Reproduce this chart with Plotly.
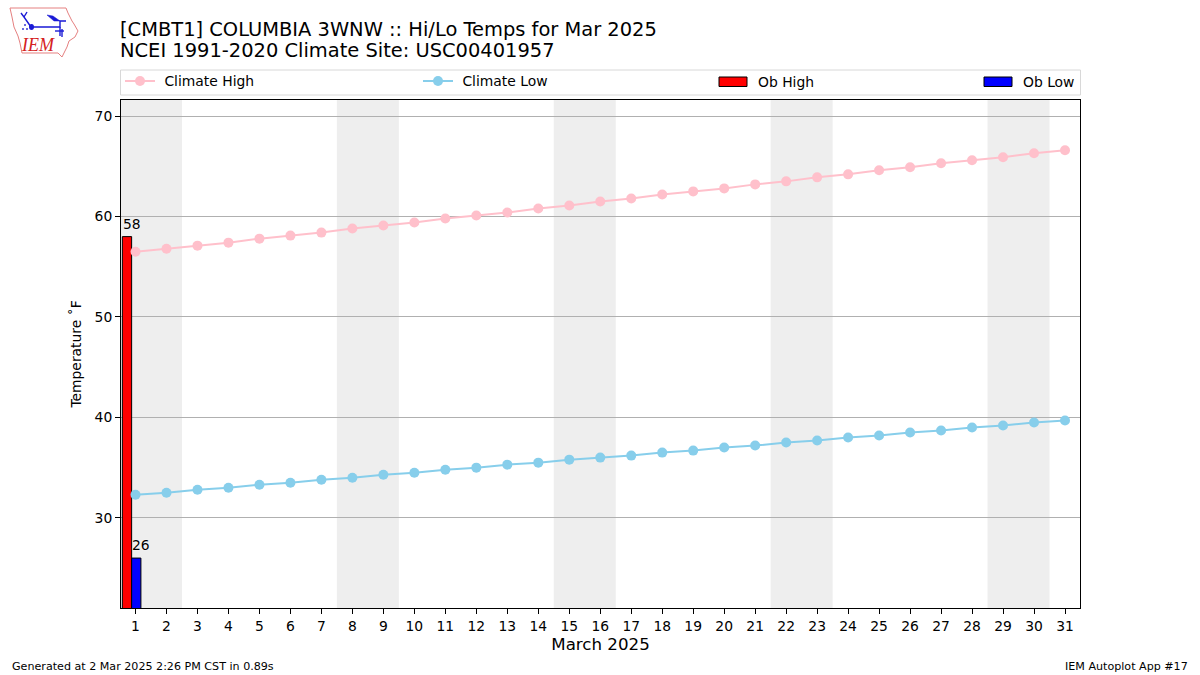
import plotly.graph_objects as go

days = list(range(1, 32))
climate_high = [56.5, 56.8, 57.1, 57.4, 57.8, 58.1, 58.4, 58.8, 59.1, 59.4, 59.8, 60.1, 60.4, 60.8, 61.1, 61.5,
                61.8, 62.2, 62.5, 62.8, 63.2, 63.5, 63.9, 64.2, 64.6, 64.9, 65.3, 65.6, 65.9, 66.3, 66.6]
climate_low = [32.3, 32.5, 32.8, 33.0, 33.3, 33.5, 33.8, 34.0, 34.3, 34.5, 34.8, 35.0, 35.3, 35.5, 35.8, 36.0,
               36.2, 36.5, 36.7, 37.0, 37.2, 37.5, 37.7, 38.0, 38.2, 38.5, 38.7, 39.0, 39.2, 39.5, 39.7]
ob_days = [1]
ob_high = [58]
ob_low = [26]
weekend_starts = [1, 8, 15, 22, 29]
y_ticks = [30, 40, 50, 60, 70]

FONT = "DejaVu Sans"
L, R, T, B = 121, 1080, 100, 608
W, H = 1200, 675
TXT = 13.89


def px(x):
    return (x - L) / (R - L)


def py(y):
    return (B - y) / (B - T)


def path(points, close=False):
    s = "M " + " L ".join(f"{px(x):.5f},{py(y):.5f}" for x, y in points)
    return s + (" Z" if close else "")


fig = go.Figure()
fig.add_trace(go.Scatter(x=days, y=climate_high, mode="lines+markers", name="\u00a0Climate High", showlegend=True,
                         line=dict(color="pink", width=2), marker=dict(color="pink", size=10), legend="legend"))
fig.add_trace(go.Scatter(x=days, y=climate_low, mode="lines+markers", name="\u00a0Climate Low", showlegend=True,
                         line=dict(color="skyblue", width=2), marker=dict(color="skyblue", size=10), legend="legend2"))
fig.add_trace(go.Bar(x=ob_days, y=ob_high, name="Ob High", width=0.3, offset=-0.425, showlegend=False,
                     marker=dict(color="red", line=dict(color="black", width=1))))
fig.add_trace(go.Bar(x=ob_days, y=ob_low, name="Ob Low", width=0.3, offset=-0.125, showlegend=False,
                     marker=dict(color="blue", line=dict(color="black", width=1))))

shapes = [dict(type="rect", xref="x", yref="paper", x0=d - 0.5, x1=d + 1.5, y0=0, y1=1,
               fillcolor="#eeeeee", line_width=0, layer="below") for d in weekend_starts]

# legend frame and bar swatches
shapes.append(dict(type="rect", xref="paper", yref="paper", x0=px(120.5), x1=px(1080.5), y0=py(95), y1=py(70),
                   line=dict(color="#d8d8d8", width=1), fillcolor="white", layer="below"))
shapes.append(dict(type="rect", xref="paper", yref="paper", x0=px(719), x1=px(747), y0=py(86.5), y1=py(77),
                   line=dict(color="black", width=1), fillcolor="red"))
shapes.append(dict(type="rect", xref="paper", yref="paper", x0=px(984), x1=px(1012), y0=py(86.5), y1=py(77),
                   line=dict(color="black", width=1), fillcolor="blue"))

# logo: outline of Iowa with station-model glyph
iowa = [(10, 8), (66, 8), (68, 13), (72, 21), (74, 24), (78, 31), (75, 37), (69, 41), (67, 47), (64, 53),
        (62, 57), (58, 53), (22, 53), (20, 43), (18, 36), (14, 27), (12, 17)]
shapes.append(dict(type="path", xref="paper", yref="paper", path=path(iowa, True),
                   line=dict(color="#e58080", width=1), fillcolor="rgba(0,0,0,0)"))
for seg in ([(31, 27), (60, 27), (60, 21), (66, 21)], [(60, 27), (60, 36)], [(31, 27), (24, 17), (21, 13)],
            [(24, 17), (27, 12)], [(55, 31), (64, 31)], [(62, 29), (62, 37)]):
    shapes.append(dict(type="path", xref="paper", yref="paper", path=path(seg),
                       line=dict(color="#1a1ad6", width=1.4)))
shapes.append(dict(type="path", xref="paper", yref="paper", path=path([(47, 15), (53, 16), (60, 21), (54, 21)], True),
                   line=dict(color="#1a1ad6", width=0.5), fillcolor="#1a1ad6"))
shapes.append(dict(type="circle", xref="paper", yref="paper", x0=px(29), x1=px(34), y0=py(30), y1=py(24),
                   line_width=0, fillcolor="#1a1ad6"))
for cx, cy in ((23, 29), (27, 29), (25, 25)):
    shapes.append(dict(type="circle", xref="paper", yref="paper", x0=px(cx - 1), x1=px(cx + 1), y0=py(cy + 1),
                       y1=py(cy - 1), line_width=0, fillcolor="#3a3ad6"))


def note(x, y, text, size, anchor="left", color="black", family=FONT):
    return dict(x=px(x), y=py(y), text=text, xref="paper", yref="paper", showarrow=False, xanchor=anchor,
                yanchor="middle", font=dict(family=family, size=size, color=color))


annotations = [
    dict(x=1 - 0.125, y=ob_high[0], text=str(ob_high[0]), xref="x", yref="y", showarrow=False, yanchor="bottom",
         yshift=3, font=dict(family=FONT, size=TXT, color="black", shadow="0 0 2px white")),
    dict(x=1 + 0.175, y=ob_low[0], text=str(ob_low[0]), xref="x", yref="y", showarrow=False, yanchor="bottom",
         yshift=3, font=dict(family=FONT, size=TXT, color="black", shadow="0 0 2px white")),
    note(118, 51, "NCEI 1991-2020 Climate Site: USC00401957", 19.44),
    note(756, 81.5, "Ob High", TXT),
    note(1021, 81.5, "Ob Low", TXT),
    note(10, 666, "Generated at 2 Mar 2025 2:26 PM CST in 0.89s", 11.11),
    note(1190, 666, "IEM Autoplot App #17", 11.11, "right"),
    note(19, 45, "<i>IEM</i>", 18, color="#d42020", family="Liberation Serif"),
]


def leg(x):
    return dict(x=px(x), y=py(81.5), xanchor="left", yanchor="middle", orientation="h",
                bgcolor="rgba(0,0,0,0)", borderwidth=0, itemwidth=30,
                font=dict(family=FONT, size=TXT, color="black"))


fig.update_layout(
    width=W, height=H, autosize=False, showlegend=True,
    margin=dict(l=L, r=W - R, t=T, b=H - B, pad=0),
    paper_bgcolor="white", plot_bgcolor="white",
    font=dict(family=FONT, size=TXT, color="black"),
    barmode="overlay",
    title=dict(text="[CMBT1] COLUMBIA 3WNW :: Hi/Lo Temps for Mar 2025",
               x=120 / W, xanchor="left", y=1 - 29 / H, yanchor="middle",
               font=dict(family=FONT, size=19.44, color="black")),
    xaxis=dict(range=[0.532, 31.484], tickmode="array", tickvals=days, ticktext=[str(d) for d in days],
               ticks="outside", ticklen=5, tickwidth=1, tickcolor="black", showgrid=False, zeroline=False,
               showline=True, linecolor="black", linewidth=1, mirror=True,
               title=dict(text="March 2025", font=dict(family=FONT, size=16.67), standoff=5),
               tickfont=dict(family=FONT, size=TXT)),
    yaxis=dict(range=[21.03, 71.6], tickmode="array", tickvals=y_ticks, ticks="outside", ticklen=5, tickwidth=1,
               tickcolor="black", showgrid=True, gridcolor="#b0b0b0", gridwidth=1, zeroline=False,
               showline=True, linecolor="black", linewidth=1, mirror=True,
               title=dict(text="Temperature ˚F", font=dict(family=FONT, size=TXT), standoff=9),
               tickfont=dict(family=FONT, size=TXT)),
    legend=leg(120), legend2=leg(418),
    shapes=shapes, annotations=annotations,
)
fig.write_html("out.html", post_script="document.body.style.margin='0';", config=dict(displayModeBar=False))
